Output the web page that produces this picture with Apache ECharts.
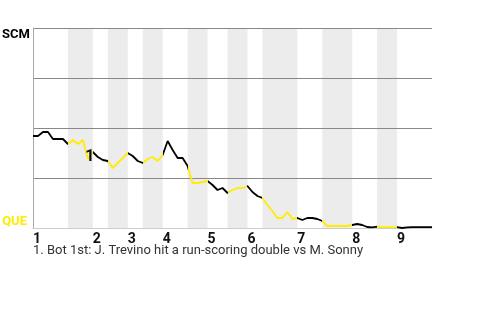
<!DOCTYPE html>
<html><head><meta charset="utf-8">
<script src="https://cdn.jsdelivr.net/npm/echarts@6/dist/echarts.min.js"></script>
<style>html,body{margin:0;padding:0;background:#fff}#c{width:480px;height:320px}</style>
</head><body><div id="c"></div>
<script>
// SCM win probability after each event (0 = QUE wins, 1 = SCM wins)
const winProb = [
 0.46,0.46,0.48,0.48,0.445,0.445,0.445,0.42,0.44,0.42,
 0.44,0.345,0.38,0.355,0.34,0.335,0.30,0.325,0.35,0.375,
 0.36,0.335,0.325,0.345,0.355,0.335,0.365,0.435,0.39,0.35,
 0.35,0.31,0.225,0.225,0.23,0.235,0.215,0.19,0.20,0.175,
 0.19,0.20,0.20,0.21,0.18,0.16,0.15,0.115,0.085,0.05,
 0.05,0.08,0.045,0.05,0.04,0.05,0.05,0.045,0.035,0.01,
 0.01,0.01,0.01,0.01,0.015,0.02,0.015,0.005,0.003,0.007,
 0.004,0.004,0.004,0.004,0.0,0.003,0.004,0.004,0.004,0.004,0.004
];
const inningLabels = ['1','2','3','4','5','6','7','8','9'];
const inningStart = [0,12,19,26,35,43,53,64,73];   // event index where top half begins
const bottomStart = [7,15,22,31,39,46,58,69];      // event index where bottom half begins
const lastEvent = 80;
const teamTop = 'SCM', teamBottom = 'QUE';
const noteIndex = 11, noteLabel = '1';
const noteText = '1. Bot 1st: J. Trevino hit a run-scoring double vs M. Sonny';

const BLACK = '#000', YELLOW = '#ffec00';
const data = winProb.map((v,i)=>[i,v]);

// color pieces per half inning
const pieces = [];
inningStart.forEach((s,k)=>{
  const b = bottomStart[k];
  const next = k+1 < inningStart.length ? inningStart[k+1] : lastEvent + 1;
  if (b !== undefined) {
    pieces.push({gte:s, lt:b, color:BLACK});
    pieces.push({gte:b, lt:next, color:YELLOW});
  } else {
    pieces.push({gte:s, lte:next, color:BLACK});
  }
});
const bands = bottomStart.map((b,k)=>[{xAxis:b},{xAxis:inningStart[k+1]}]);

const chart = echarts.init(document.getElementById('c'), null, {renderer:'canvas'});
chart.setOption({
  animation:false,
  backgroundColor:'#fff',
  textStyle:{fontFamily:'Roboto'},
  title:{text:noteText, left:33, top:244, padding:0,
    textStyle:{fontFamily:'Roboto', fontSize:13, fontWeight:'normal', color:'#333'}},
  grid:{left:33, right:48, top:28, bottom:92, containLabel:false, outerBoundsMode:'none'},
  visualMap:{show:false, type:'piecewise', dimension:0, seriesIndex:0, pieces:pieces},
  xAxis:{type:'value', min:0, max:lastEvent, z:2,
    axisLine:{show:true, lineStyle:{color:'#ccc', width:1}},
    axisTick:{show:false}, splitLine:{show:false},
    axisLabel:{customValues:inningStart, align:'left', margin:4,
      formatter:(v)=>inningLabels[inningStart.indexOf(v)] || '',
      fontFamily:'Roboto', fontSize:14, fontWeight:'bold', color:'#111'}},
  yAxis:[
    {type:'value', min:0, max:1, interval:0.25, z:2,
     axisLine:{show:true, lineStyle:{color:'#aaa'}}, axisTick:{show:false},
     splitLine:{show:true, showMinLine:false, lineStyle:{color:'#888', width:1}},
     axisLabel:{verticalAlign:'top', margin:3, fontFamily:'Roboto', fontSize:13, fontWeight:'bold', color:'#000',
       formatter:(v)=> v===1 ? teamTop : ''}},
    {type:'value', min:0, max:1, interval:1, position:'left',
     axisLine:{show:false}, axisTick:{show:false}, splitLine:{show:false},
     axisLabel:{verticalAlign:'bottom', margin:6, fontFamily:'Roboto', fontSize:13, fontWeight:'bold', color:YELLOW,
       formatter:(v)=> v===0 ? teamBottom : ''}}
  ],
  series:[
    {type:'line', data:data, showSymbol:false, symbol:'none', lineStyle:{width:1.8}, z:5,
     markPoint:{symbol:'circle', symbolSize:0, silent:true, z:6,
       label:{show:true, position:'inside', offset:[2,-2], formatter:noteLabel,
         fontFamily:'Roboto', fontSize:16, fontWeight:'bold', color:'#111'},
       data:[{coord:[noteIndex, winProb[noteIndex]]}]}},
    {type:'line', data:[], z:0, silent:true,
     markArea:{silent:true, z:0, itemStyle:{color:'#ececec'}, data:bands}}
  ]
});
</script></body></html>
